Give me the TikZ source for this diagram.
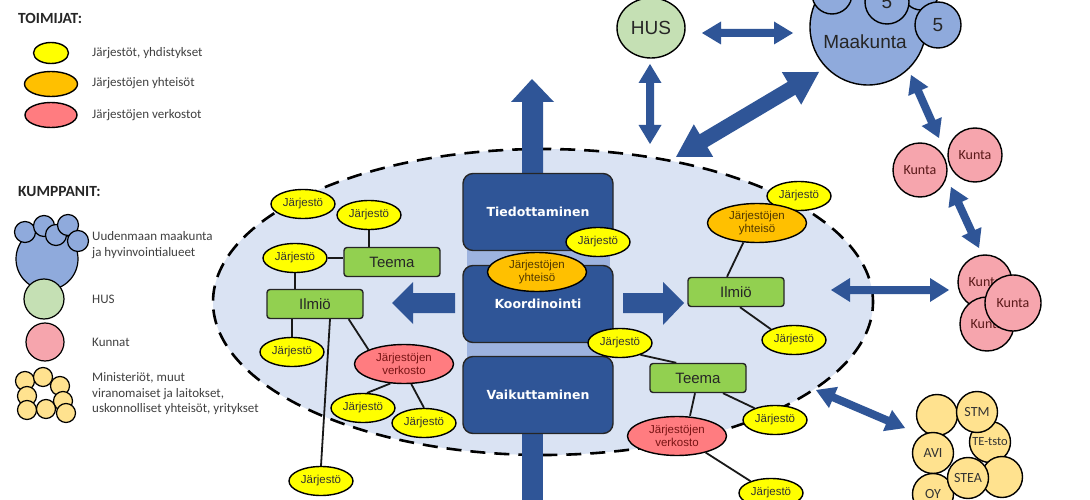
\documentclass[tikz,border=0pt]{standalone}
\usepackage{fontspec}
\setmainfont{Liberation Sans}
\newfontfamily\calfont{Carlito}
\newfontfamily\dvsfont{DejaVu Sans}
\usetikzlibrary{shapes.geometric,calc}
\pgfdeclarelayer{back}
\pgfdeclarelayer{connl}
\pgfsetlayers{back,connl,main}
\definecolor{arrblue}{HTML}{2F5597}
\definecolor{boxblue}{HTML}{2F5597}
\definecolor{colbg}{HTML}{9DB3DF}
\definecolor{ellbg}{HTML}{DAE3F3}
\definecolor{jyellow}{HTML}{FFFF00}
\definecolor{jorange}{HTML}{FFC000}
\definecolor{jpink}{HTML}{FF7C80}
\definecolor{tgreen}{HTML}{92D050}
\definecolor{mblue}{HTML}{8FAADC}
\definecolor{husg}{HTML}{C5E0B4}
\definecolor{kpink}{HTML}{F6A5AD}
\definecolor{myel}{HTML}{FFE28F}
\definecolor{legtext}{HTML}{404040}
\newcommand\dbarr[5]{\fill[arrblue] (#1)
 -- ($(#1)!#5!(#2)!#4!90:(#2)$)
 -- ($(#1)!#5!(#2)!#3!90:(#2)$)
 -- ($(#2)!#5!(#1)!#3!-90:(#1)$)
 -- ($(#2)!#5!(#1)!#4!-90:(#1)$)
 -- (#2)
 -- ($(#2)!#5!(#1)!#4!90:(#1)$)
 -- ($(#2)!#5!(#1)!#3!90:(#1)$)
 -- ($(#1)!#5!(#2)!#3!-90:(#2)$)
 -- ($(#1)!#5!(#2)!#4!-90:(#2)$) -- cycle;}
\tikzset{
 jar/.style={ellipse, draw=black, line width=1.4pt, fill=jyellow, minimum width=64pt, minimum height=29pt, inner sep=0pt, text=black!80, font=\fontsize{11.5}{13}\selectfont},
 yht/.style={ellipse, draw=black, line width=1.4pt, fill=jorange, minimum width=99pt, minimum height=39pt, inner sep=0pt, align=center, text={rgb,255:red,80;green,55;blue,0}, font=\fontsize{11.5}{13.5}\selectfont},
 verk/.style={yht, fill=jpink, text={rgb,255:red,120;green,20;blue,20}},
 gbox/.style={rectangle, rounded corners=3pt, draw=black!85, line width=1.4pt, fill=tgreen, minimum width=96pt, minimum height=29pt, inner sep=0pt, text=black!85, font=\fontsize{15}{17}\selectfont},
 bbox/.style={rectangle, rounded corners=10pt, draw=black!85, line width=1.4pt, fill=boxblue, minimum width=150pt, minimum height=77pt, text=white, font=\dvsfont\bfseries\fontsize{12.5}{14}\selectfont},
 conn/.style={line width=1.8pt, draw=black!90},
 circ/.style={circle, draw=black, line width=1.4pt, inner sep=0pt},
 mcirc/.style={circ, fill=mblue, text=black!85, font=\fontsize{19}{21}\selectfont},
 kcirc/.style={circ, fill=kpink, minimum size=54pt, text={rgb,255:red,90;green,25;blue,25}, font=\calfont\fontsize{14}{16}\selectfont},
 ycirc/.style={circ, fill=myel, minimum size=41pt, text=black!80, font=\calfont\fontsize{14}{16}\selectfont},
 legtxt/.style={anchor=west, text=legtext, align=left, inner sep=0pt, font=\calfont\fontsize{13}{15.5}\selectfont},
 leghead/.style={anchor=west, text=black!85, inner sep=0pt, font=\calfont\bfseries\fontsize{15.5}{17}\selectfont},
 legc/.style={circle, draw=black, line width=1.2pt, inner sep=0pt},
}
\begin{document}
\begin{tikzpicture}[x=1pt,y=-1pt]
\useasboundingbox (0,0) rectangle (1090,500);
\clip (0,0) rectangle (1090,500);

\begin{pgfonlayer}{back}
\fill[white] (0,0) rectangle (1090,500);
% ---------- big dashed ellipse ----------
\node[ellipse, draw=black, line width=2.6pt, dash pattern=on 15pt off 9pt, fill=ellbg, minimum width=660pt, minimum height=306pt, inner sep=0pt] (area) at (543,302) {};
% block arrows
\fill[arrblue] (522,178) -- (522,102) -- (511,102) -- (532,79) -- (554,102) -- (543,102) -- (543,178) -- cycle;
\fill[arrblue] (522,430) rectangle (543,505);
\fill[arrblue] (455,293) -- (413,293) -- (413,282) -- (392,303) -- (413,324) -- (413,313) -- (455,313) -- cycle;
\fill[arrblue] (623,293) -- (663,293) -- (663,282) -- (684,303) -- (663,325) -- (663,313) -- (623,313) -- cycle;
% central column background
\fill[colbg] (467,178) rectangle (610,430);
\end{pgfonlayer}

% ---------- legend ----------
\node[leghead] (toimijat) at (18,18) {TOIMIJAT:};
\node[ellipse, draw=black, line width=1.4pt, fill=jyellow, minimum width=35pt, minimum height=21pt, inner sep=0pt] (lj) at (51,53) {};
\node[ellipse, draw=black, line width=1.4pt, fill=jorange, minimum width=53pt, minimum height=25pt, inner sep=0pt] (lo) at (51,84) {};
\node[ellipse, draw=black, line width=1.4pt, fill=jpink, minimum width=52pt, minimum height=25pt, inner sep=0pt] (lp) at (51,115) {};
\node[legtxt] (t1) at (92,53) {Järjestöt, yhdistykset};
\node[legtxt] (t2) at (92,83) {Järjestöjen yhteisöt};
\node[legtxt] (t3) at (92,115) {Järjestöjen verkostot};

\node[leghead] (kumppanit) at (18,192) {KUMPPANIT:};
\node[legc, fill=mblue, minimum size=62pt] (lb0) at (47,259) {};
\foreach \p/\n in {{(25,232)}/a, {(44,226)}/b, {(56,235)}/c, {(68,225)}/d, {(78,241)}/e}
  \node[legc, fill=mblue, minimum size=21pt] (lb\n) at \p {};
\node[legtxt] (t4) at (92,245) {Uudenmaan maakunta\\ja hyvinvointialueet};
\node[legc, fill=husg, minimum size=40pt] (lh) at (44,299) {};
\node[legtxt] (t5) at (92,299) {HUS};
\node[legc, fill=kpink, minimum size=38pt] (lk) at (45,342) {};
\node[legtxt] (t6) at (92,342) {Kunnat};
\foreach \p/\n in {{(25,381)}/a, {(43,377)}/b, {(60,386)}/c, {(27,396)}/d, {(63,401)}/e, {(27,410)}/f, {(46,409)}/g, {(66,413)}/h}
  \node[legc, fill=myel, minimum size=19pt] (ly\n) at \p {};
\node[legtxt] (t7) at (92,394) {Ministeriöt, muut\\viranomaiset ja laitokset,\\uskonnolliset yhteisöt, yritykset};

% central column boxes
\node[bbox] (tied) at (538,212) {Tiedottaminen};
\node[bbox] (koord) at (538,304) {Koordinointi};
\node[bbox] (vaik) at (538,395) {Vaikuttaminen};

% ---------- left cluster ----------
\node[jar] (jA) at (303,204) {Järjestö};
\node[jar] (jB) at (369,215) {Järjestö};
\node[jar] (jC) at (295,258) {Järjestö};
\node[gbox] (teemaL) at (392,262) {Teema};
\node[gbox] (ilmioL) at (315,304) {Ilmiö};
\node[jar] (jD) at (292,352) {Järjestö};
\node[verk] (verkL) at (404,364) {Järjestöjen\\verkosto};
\node[jar] (jF) at (363,408) {Järjestö};
\node[jar] (jG) at (424,423) {Järjestö};
\node[jar] (jE) at (321,481) {Järjestö};

% ---------- right cluster ----------
\node[jar] (jR1) at (799,196) {Järjestö};
\node[yht] (yhtR) at (757,223) {Järjestöjen\\yhteisö};
\node[gbox] (ilmioR) at (736,292) {Ilmiö};
\node[jar] (jR2) at (794,340) {Järjestö};
\node[gbox] (teemaR) at (698,378) {Teema};
\node[verk] (verkR) at (677,436) {Järjestöjen\\verkosto};
\node[jar] (jR3) at (775,420) {Järjestö};
\node[jar] (jR4) at (771,493) {Järjestö};

% ---------- central small nodes ----------
\node[jar] (jT) at (598,242) {Järjestö};
\node[yht] (yhtC) at (537,272) {Järjestöjen\\yhteisö};
\node[jar] (jK) at (620,343) {Järjestö};

% ---------- partners ----------
\node[ellipse, draw=black, line width=1.4pt, fill=husg, minimum width=68pt, minimum height=60pt, inner sep=0pt, text=black!85, font=\fontsize{19}{21}\selectfont] (hus) at (651,28) {HUS};
\node[mcirc, minimum size=116pt] (maak) at (868,27) {};
\node[mcirc, minimum size=40pt] (m1) at (832,-6) {};
\node[mcirc, minimum size=36pt] (m3) at (921,-8) {};
\node[mcirc, minimum size=44pt] (m2) at (887,2) {5};
\node[mcirc, minimum size=46pt] (m4) at (938,25) {5};
\node[text=black!85, font=\fontsize{19}{21}\selectfont] (maaklbl) at (865,42) {Maakunta};

\node[kcirc] (k1) at (920,170) {Kunta};
\node[kcirc] (k2) at (975,155) {Kunta};
\node[kcirc] (k3) at (985,282) {Kunta};
\node[kcirc] (k4) at (987,324) {Kunta};
\node[kcirc, minimum size=56pt] (k5) at (1013,303) {Kunta};

\node[ycirc] (y1) at (937,415) {};
\node[ycirc] (y3) at (990,442) {\fontsize{12.5}{14}\selectfont TE-tsto};
\node[ycirc] (y2) at (977,412) {STM};
\node[ycirc] (y4) at (933,453) {AVI};
\node[ycirc] (y6) at (1002,477) {};
\node[ycirc] (y7) at (933,494) {OY};
\node[ycirc] (y5) at (968,478) {STEA};

% ---------- double arrows ----------
\coordinate (hA) at (702,33); \coordinate (hB) at (793,33);
\coordinate (vA) at (650,64); \coordinate (vB) at (650,144);
\coordinate (dA) at (676,157); \coordinate (dB) at (819,72);
\coordinate (mkA) at (911,75); \coordinate (mkB) at (939,138);
\coordinate (kkA) at (951,187); \coordinate (kkB) at (979,248);
\coordinate (ekA) at (831,290); \coordinate (ekB) at (949,290);
\coordinate (eyA) at (816,390); \coordinate (eyB) at (905,428);
\dbarr{hA}{hB}{4pt}{11.5pt}{19pt}
\dbarr{vA}{vB}{4pt}{11.5pt}{19pt}
\dbarr{dA}{dB}{7.5pt}{19pt}{32pt}
\dbarr{mkA}{mkB}{4pt}{11pt}{18pt}
\dbarr{kkA}{kkB}{4pt}{11pt}{18pt}
\dbarr{ekA}{ekB}{4pt}{12pt}{19pt}
\dbarr{eyA}{eyB}{4pt}{11.5pt}{19pt}

% ---------- connectors, on a layer below the nodes ----------
\begin{pgfonlayer}{connl}
\draw[conn] (jB.south) -- (jB.south |- teemaL.north);
\draw[conn] (jC.east) -- (jC.east -| teemaL.west);
\draw[conn] (jC.south) -- (jC.south |- ilmioL.north);
\draw[conn] (jD.north) -- (jD.north |- ilmioL.south);
\draw[conn] ($(ilmioL.south)+(15,0)$) -- (jE.north);
\draw[conn] ($(ilmioL.south east)+(-15,0)$) -- (verkL.north west);
\draw[conn] (verkL.235) -- (jF.75);
\draw[conn] (verkL.290) -- (jG.north);
\draw[conn] (yhtR.235) -- ($(ilmioR.north)+(-9,0)$);
\draw[conn] ($(ilmioR.south)+(4,0)$) -- (jR2.155);
\draw[conn] (jK.330) -- ($(teemaR.north west)+(27,0)$);
\draw[conn] ($(teemaR.south)+(-3,0)$) -- ($(verkR.north)+(13,0)$);
\draw[conn] ($(teemaR.south)+(25,0)$) -- (jR3.150);
\draw[conn] (verkR.330) -- (jR4.150);
\end{pgfonlayer}
\end{tikzpicture}
\end{document}
